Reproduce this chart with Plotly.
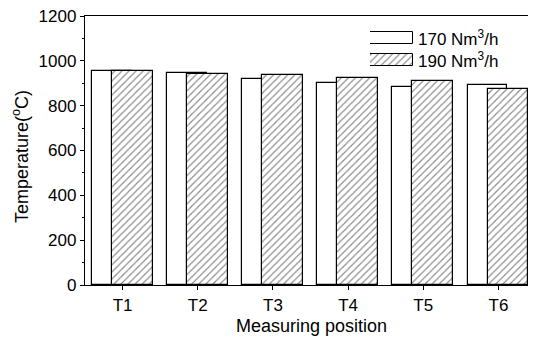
import plotly.graph_objects as go

categories = ["T1", "T2", "T3", "T4", "T5", "T6"]
flow_170 = [956, 944, 919, 900, 885, 892]
flow_190 = [953, 941, 937, 925, 912, 875]
series_names = ["170 Nm<sup>3</sup>/h", "190 Nm<sup>3</sup>/h"]
y_ticks = [0, 200, 400, 600, 800, 1000, 1200]

# page body has an 8px margin, so the figure is laid out in shifted pixels
OFF = 8
W, H = 536 - OFF, 340 - OFF
ML, MR, MT, MB = 85 - OFF, 0, 16 - OFF, 55
PW, PH = W - ML - MR, H - MT - MB
FONT = "Liberation Sans, Arial, sans-serif"

hatch = dict(shape="/", size=5, solidity=0.22, fgcolor="#111", bgcolor="white")
outline = dict(color="black", width=1.2)

fig = go.Figure()
fig.add_trace(go.Bar(x=categories, y=flow_170, name=series_names[0],
                     marker=dict(color="white", line=outline),
                     offset=-0.41, width=0.53, showlegend=False))
fig.add_trace(go.Bar(x=categories, y=flow_190, name=series_names[1],
                     marker=dict(color="white", line=outline, pattern=hatch),
                     offset=-0.145, width=0.545, showlegend=False))

def px_x(p):
    return (p - OFF - ML) / PW

def px_y(p):
    return (MT + PH - (p - OFF)) / PH

# legend swatches drawn as bars on a small helper axis
fig.add_trace(go.Bar(x=[1], y=[0], orientation="h", xaxis="x2", yaxis="y2",
                     marker=dict(color="white", line=dict(color="black", width=1)),
                     width=0.55, showlegend=False, hoverinfo="skip", cliponaxis=False))
fig.add_trace(go.Bar(x=[1], y=[1], orientation="h", xaxis="x2", yaxis="y2",
                     marker=dict(color="white", line=dict(color="black", width=1), pattern=hatch),
                     width=0.55, showlegend=False, hoverinfo="skip", cliponaxis=False))

for i, nm in enumerate(series_names):
    fig.add_annotation(text=nm, xref="paper", yref="paper",
                       x=px_x(416), y=px_y(38 + 22 * i), xanchor="left", yanchor="middle",
                       showarrow=False, font=dict(family=FONT, size=17, color="black"))

# axis titles
fig.add_annotation(text="Measuring position", xref="paper", yref="paper",
                   x=px_x(311), y=px_y(326), xanchor="center", yanchor="middle",
                   showarrow=False, font=dict(family=FONT, size=18, color="black"))
fig.add_annotation(text="Temperature(<sup>o</sup>C)", xref="paper", yref="paper",
                   x=px_x(20), y=px_y(157), xanchor="center", yanchor="middle",
                   textangle=-90, showarrow=False,
                   font=dict(family=FONT, size=18, color="black"))

fig.update_layout(
    width=W, height=H,
    margin=dict(l=ML, r=MR, t=MT, b=MB, pad=0, autoexpand=False),
    paper_bgcolor="white", plot_bgcolor="white",
    barmode="overlay", bargap=0,
    font=dict(family=FONT, size=17, color="black"),
    xaxis=dict(showline=True, linecolor="black", linewidth=1.3, mirror=True,
               ticks="outside", ticklen=4, tickcolor="black",
               showgrid=False, zeroline=False, range=[-0.5, 5.5],
               tickfont=dict(size=17), automargin=False, ticklabeloverflow="allow"),
    yaxis=dict(showline=True, linecolor="black", linewidth=1.3,
               ticks="outside", ticklen=4, tickcolor="black",
               tickvals=y_ticks, range=[0, 1200],
               minor=dict(ticks="outside", ticklen=2, dtick=100, tickcolor="black"),
               showgrid=False, zeroline=False, tickfont=dict(size=17),
               automargin=False, ticklabeloverflow="allow"),
    xaxis2=dict(domain=[px_x(370), px_x(413)], anchor="y2", range=[0, 1],
                visible=False, fixedrange=True),
    yaxis2=dict(domain=[px_y(71), px_y(27)], anchor="x2", range=[1.5, -0.5],
                visible=False, fixedrange=True),
)

fig.write_html("out.html")
